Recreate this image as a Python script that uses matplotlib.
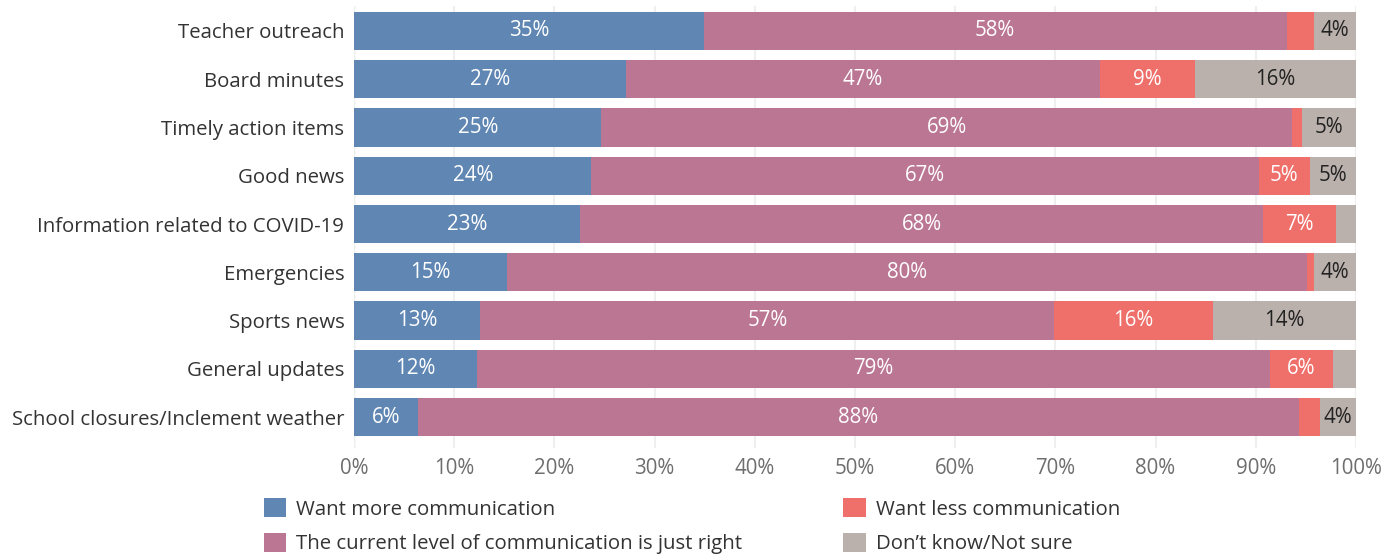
import matplotlib.pyplot as plt
import numpy as np
from matplotlib.patches import Patch

plt.rcParams['font.family'] = ['Open Sans', 'DejaVu Sans']

categories = ["Teacher outreach", "Board minutes", "Timely action items", "Good news",
              "Information related to COVID-19", "Emergencies", "Sports news",
              "General updates", "School closures/Inclement weather"]

want_more = [34.9, 27.1, 24.7, 23.7, 22.6, 15.3, 12.6, 12.3, 6.4]
just_right = [58.2, 47.4, 68.9, 66.6, 68.1, 79.8, 57.3, 79.1, 87.9]
want_less = [2.7, 9.4, 1.0, 5.1, 7.3, 0.7, 15.8, 6.3, 2.1]
not_sure = [4.2, 16.1, 5.4, 4.6, 2.0, 4.2, 14.3, 2.3, 3.6]

series_names = ["Want more communication",
                "The current level of communication is just right",
                "Want less communication",
                "Don\u2019t know/Not sure"]
colors = ['#6087b3', '#bb7693', '#ef6f6a', '#bab0ac']
text_colors = ['white', 'white', 'white', '#222222']

fig = plt.figure(figsize=(13.98, 5.55), dpi=100)
ax = fig.add_axes([0.2532, 0.1928, 0.7167, 0.7964])

# stacked bars, labels only on segments wide enough to hold them
y = np.arange(len(categories))
left = np.zeros(len(categories))
for vals, col, tcol in zip([want_more, just_right, want_less, not_sure], colors, text_colors):
    vals = np.array(vals)
    ax.barh(y, vals, left=left, height=0.79, color=col, zorder=2)
    for yi, l, v in zip(y, left, vals):
        if v >= 3.5:
            ax.text(l + v / 2, yi, f"{v:.0f}%", ha='center', va='center',
                    color=tcol, fontsize=14.8, zorder=3)
    left += vals

ax.set_xlim(0, 100)
ax.set_ylim(8.642, -0.518)
ax.set_xticks(np.arange(0, 101, 10))
ax.set_xticklabels([f"{t}%" for t in range(0, 101, 10)])
ax.set_yticks(y)
ax.set_yticklabels(categories)
ax.tick_params(axis='x', length=0, labelsize=14.8, labelcolor='#6e6e6e', pad=7)
ax.tick_params(axis='y', length=0, labelsize=14.7, labelcolor='#333333', pad=7)
for s in ax.spines.values():
    s.set_visible(False)
ax.grid(axis='x', color='#efefef', linewidth=1.5, zorder=0)
ax.axvline(0, color='#c8c8c8', linewidth=1, linestyle=(0, (2, 2)), zorder=1)

handles = [Patch(facecolor=c, edgecolor='none') for c in colors]
fig.legend(handles, series_names, ncol=2, loc='upper left',
           bbox_to_anchor=(0.1817, 0.121), frameon=False, fontsize=14.7,
           handlelength=1.08, handleheight=1.08, handletextpad=0.49,
           columnspacing=4.95, labelspacing=0.64, borderpad=0,
           labelcolor='#333333')

fig.savefig("out.png", dpi=100)
